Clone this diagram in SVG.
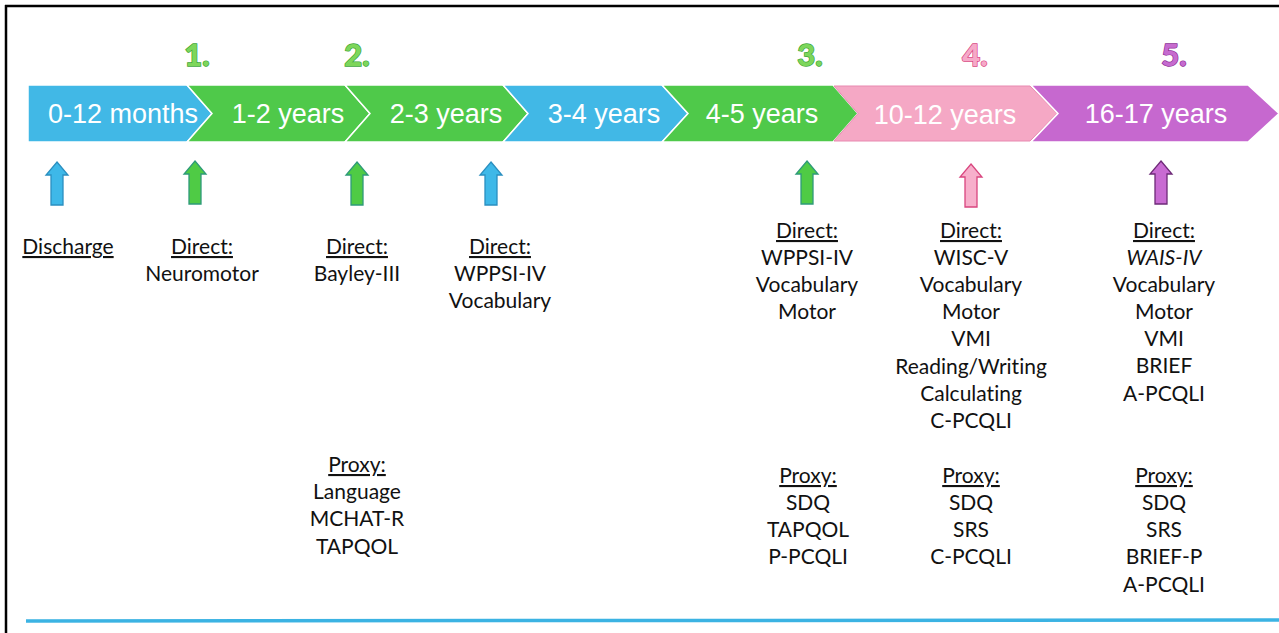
<svg xmlns="http://www.w3.org/2000/svg" width="1279" height="633" viewBox="0 0 1279 633">
<style>
.band{font-family:"Liberation Sans",Arial,sans-serif;font-size:27px;fill:#ffffff;text-anchor:middle}
.num{font-family:Lato,"Open Sans",sans-serif;font-weight:900;font-size:31px;text-anchor:middle;stroke-width:1.4;paint-order:stroke}
.lbl{font-family:Lato,"Open Sans",sans-serif;font-size:21px;fill:#111111;text-anchor:middle;font-variant-ligatures:none}
.hd{text-decoration:underline}
.chev{stroke:#ffffff;stroke-width:1.5}
.arr{stroke-width:1.3;stroke-linejoin:miter}
</style>
<defs>
<path id="arrow" d="M0,0 L11,13 L6,13 L6,43 L-6,43 L-6,13 L-11,13 Z"/>
</defs>
<rect x="0" y="0" width="1279" height="633" fill="#ffffff"/>
<g id="frame">
<line x1="5" y1="6" x2="1279" y2="6" stroke="#000000" stroke-width="2.5"/>
<line x1="6" y1="5" x2="6" y2="633" stroke="#000000" stroke-width="2.5"/>
<line x1="26" y1="621" x2="1279" y2="620" stroke="#3BB3E3" stroke-width="3.5"/>
</g>
<g id="numbers">
<text class="num" x="197" y="66" fill="#7DD65A" stroke="#3BA53B">1.</text>
<text class="num" x="357" y="66" fill="#7DD65A" stroke="#3BA53B">2.</text>
<text class="num" x="810" y="66" fill="#7DD65A" stroke="#3BA53B">3.</text>
<text class="num" x="975" y="66" fill="#F6A9C8" stroke="#D94784">4.</text>
<text class="num" x="1174" y="66" fill="#C66BCF" stroke="#8E2F97">5.</text>
</g>
<g id="band">
<g id="p0-12m"><polygon class="chev" fill="#41B8E6" points="28,85 187,85 212,113.5 187,142 28,142"/><text class="band" x="123" y="123">0-12 months</text></g>
<g id="p1-2y"><polygon class="chev" fill="#4FC94A" points="187,85 345,85 370,113.5 345,142 187,142 212,113.5"/><text class="band" x="288" y="123">1-2 years</text></g>
<g id="p2-3y"><polygon class="chev" fill="#4FC94A" points="345,85 503,85 528,113.5 503,142 345,142 370,113.5"/><text class="band" x="446" y="123">2-3 years</text></g>
<g id="p3-4y"><polygon class="chev" fill="#41B8E6" points="503,85 662,85 688,113.5 662,142 503,142 528,113.5"/><text class="band" x="604" y="123">3-4 years</text></g>
<g id="p4-5y"><polygon class="chev" fill="#4FC94A" points="662,85 833,85 858,113.5 833,142 662,142 688,113.5"/><text class="band" x="762" y="123">4-5 years</text></g>
<g id="p10-12y"><polygon fill="#F5A8C5" stroke="#E889B0" stroke-width="1" points="834,86 1030,86 1057,113.5 1030,141 834,141 858,113.5"/><text class="band" x="945" y="124" fill="#FDF2F6">10-12 years</text></g>
<g id="p16-17y"><polygon class="chev" fill="#C668CF" points="1031,85 1248,85 1279,113.5 1248,142 1031,142 1058,113.5"/><text class="band" x="1156" y="123">16-17 years</text></g>
</g>
<g id="connectors">
<use href="#arrow" x="57" y="162" class="arr" fill="#3EB8E8" stroke="#2A8FC0"/>
<use href="#arrow" x="195" y="161" class="arr" fill="#4FCB45" stroke="#2E9A7A"/>
<use href="#arrow" x="357" y="162" class="arr" fill="#4FCB45" stroke="#2E9A7A"/>
<use href="#arrow" x="491" y="162" class="arr" fill="#3EB8E8" stroke="#2A8FC0"/>
<use href="#arrow" x="807" y="161" class="arr" fill="#4FCB45" stroke="#2E9A7A"/>
<use href="#arrow" x="971" y="164" class="arr" fill="#F7AFCB" stroke="#D9467F"/>
<use href="#arrow" x="1161" y="161" class="arr" fill="#C86BD2" stroke="#6E2A78"/>
</g>
<g id="discharge">
<text class="lbl hd" x="68" y="254">Discharge</text>
</g>
<g id="t1">
<text class="lbl hd" x="202" y="254">Direct:</text>
<text class="lbl" x="202" y="281">Neuromotor</text>
</g>
<g id="t2">
<text class="lbl hd" x="357" y="254">Direct:</text>
<text class="lbl" x="357" y="281">Bayley-III</text>
<text class="lbl hd" x="357" y="472">Proxy:</text>
<text class="lbl" x="357" y="499">Language</text>
<text class="lbl" x="357" y="526">MCHAT-R</text>
<text class="lbl" x="357" y="554">TAPQOL</text>
</g>
<g id="t2b">
<text class="lbl hd" x="500" y="254">Direct:</text>
<text class="lbl" x="500" y="281">WPPSI-IV</text>
<text class="lbl" x="500" y="308">Vocabulary</text>
</g>
<g id="t3">
<text class="lbl hd" x="807" y="238">Direct:</text>
<text class="lbl" x="807" y="265">WPPSI-IV</text>
<text class="lbl" x="807" y="292">Vocabulary</text>
<text class="lbl" x="807" y="319">Motor</text>
<text class="lbl hd" x="808" y="483">Proxy:</text>
<text class="lbl" x="808" y="510">SDQ</text>
<text class="lbl" x="808" y="537">TAPQOL</text>
<text class="lbl" x="808" y="564">P-PCQLI</text>
</g>
<g id="t4">
<text class="lbl hd" x="971" y="238">Direct:</text>
<text class="lbl" x="971" y="265">WISC-V</text>
<text class="lbl" x="971" y="292">Vocabulary</text>
<text class="lbl" x="971" y="319">Motor</text>
<text class="lbl" x="971" y="346">VMI</text>
<text class="lbl" x="971" y="374">Reading/Writing</text>
<text class="lbl" x="971" y="401">Calculating</text>
<text class="lbl" x="971" y="428">C-PCQLI</text>
<text class="lbl hd" x="971" y="483">Proxy:</text>
<text class="lbl" x="971" y="510">SDQ</text>
<text class="lbl" x="971" y="537">SRS</text>
<text class="lbl" x="971" y="564">C-PCQLI</text>
</g>
<g id="t5">
<text class="lbl hd" x="1164" y="238">Direct:</text>
<text class="lbl" x="1164" y="265" font-style="italic">WAIS-IV</text>
<text class="lbl" x="1164" y="292">Vocabulary</text>
<text class="lbl" x="1164" y="319">Motor</text>
<text class="lbl" x="1164" y="346">VMI</text>
<text class="lbl" x="1164" y="373">BRIEF</text>
<text class="lbl" x="1164" y="401">A-PCQLI</text>
<text class="lbl hd" x="1164" y="483">Proxy:</text>
<text class="lbl" x="1164" y="510">SDQ</text>
<text class="lbl" x="1164" y="537">SRS</text>
<text class="lbl" x="1164" y="564">BRIEF-P</text>
<text class="lbl" x="1164" y="592">A-PCQLI</text>
</g>
</svg>
